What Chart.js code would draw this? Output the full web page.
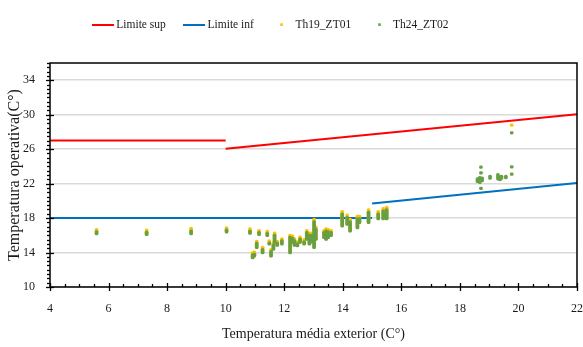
<!DOCTYPE html>
<html><head><meta charset="utf-8">
<script src="https://cdn.jsdelivr.net/npm/chart.js@4/dist/chart.umd.min.js"></script>
<style>html,body{margin:0;padding:0;background:#fff;}</style>
</head><body>
<canvas id="c" width="583" height="347"></canvas>
<script>
// ---- data ----
const xTicks = [4, 6, 8, 10, 12, 14, 16, 18, 20, 22];
const yTicks = [10, 14, 18, 22, 26, 30, 34];

const supFlatX = [4, 10],  supFlatY = [27, 27];
const supSlopeX = [10, 22], supSlopeY = [26.05, 30.05];
const infFlatX = [4, 15],  infFlatY = [18, 18];
const infSlopeX = [15, 22], infSlopeY = [19.7, 22.07];

const th19X    = [5.59, 7.30, 8.82, 10.03, 10.83, 10.92, 10.98, 11.06, 11.14, 11.26, 11.42, 11.49, 11.55, 11.63, 11.67, 11.76, 11.92, 12.20, 12.28, 12.35, 12.45, 12.54, 12.68, 12.77, 12.86, 12.94, 13.02, 13.08, 13.36, 13.43, 13.50, 13.60, 13.98, 14.15, 14.25, 14.50, 14.57, 14.88, 15.21, 15.38, 15.50, 19.77];
const th19Low  = [16.1, 16.0, 16.1, 16.3, 16.15, 13.3, 13.5, 14.5, 16.0, 13.9, 15.9, 14.9, 13.5, 14.3, 15.1, 14.75, 14.9, 13.9, 15.1, 14.75, 14.7, 15.1, 14.9, 15.45, 14.9, 15.15, 14.5, 15.45, 15.65, 15.45, 15.65, 15.9, 17.0, 17.2, 16.4, 16.8, 17.4, 17.4, 17.85, 17.85, 17.85, 28.65];
const th19High = [16.8, 16.75, 16.95, 17.0, 16.9, 14.1, 14.2, 15.45, 16.7, 14.75, 16.6, 15.5, 14.5, 15.25, 16.4, 15.45, 15.75, 16.15, 16.05, 15.75, 15.4, 15.95, 15.65, 16.7, 16.4, 16.4, 18.0, 17.1, 16.7, 16.9, 16.8, 16.7, 18.9, 18.5, 18.0, 18.35, 18.35, 19.1, 18.9, 19.25, 19.4, 28.95];

const th24X    = [5.59, 7.30, 8.82, 10.03, 10.83, 10.92, 10.98, 11.06, 11.14, 11.26, 11.42, 11.49, 11.55, 11.63, 11.67, 11.76, 11.92, 12.20, 12.28, 12.35, 12.45, 12.54, 12.68, 12.77, 12.86, 12.94, 13.02, 13.08, 13.36, 13.43, 13.50, 13.60, 13.98, 14.15, 14.25, 14.50, 14.57, 14.88, 15.21, 15.38, 15.50, 18.60, 18.68, 18.72, 18.72, 18.72, 18.76, 19.03, 19.30, 19.37, 19.42, 19.57, 19.77, 19.77, 19.77];
const th24Low  = [16.05, 15.95, 16.05, 16.25, 16.1, 13.25, 13.45, 14.45, 15.95, 13.85, 15.85, 14.85, 13.45, 14.25, 15.05, 14.7, 14.85, 13.85, 15.05, 14.7, 14.65, 15.05, 14.85, 15.4, 14.85, 15.1, 14.45, 15.4, 15.6, 15.4, 15.6, 15.85, 16.95, 17.15, 16.35, 16.75, 17.35, 17.35, 17.8, 17.8, 17.8, 22.1, 22.0, 23.75, 23.1, 21.3, 22.2, 22.5, 22.4, 22.3, 22.5, 22.55, 23.8, 22.95, 27.75];
const th24High = [16.55, 16.5, 16.65, 16.75, 16.6, 13.85, 13.95, 15.2, 16.45, 14.5, 16.35, 15.25, 14.25, 15.0, 16.15, 15.2, 15.5, 15.9, 15.8, 15.5, 15.15, 15.7, 15.4, 16.45, 16.15, 16.15, 17.7, 16.85, 16.45, 16.65, 16.55, 16.45, 18.6, 18.2, 17.7, 18.05, 18.05, 18.8, 18.6, 18.95, 19.1, 22.7, 22.85, 24.05, 23.4, 21.6, 22.8, 23.0, 23.2, 22.9, 23.0, 23.0, 24.1, 23.25, 28.05];

// ---- styling ----
const SERIF = "'Liberation Serif', 'Times New Roman', serif";
const RED = '#FF0000', BLUE = '#0070C0', YEL = '#FFC000', GRN = '#67A044';
const TXT = '#1a1a1a';

function lineImg(color) {
  const c = document.createElement('canvas'); c.width = 22; c.height = 2;
  const g = c.getContext('2d'); g.fillStyle = color; g.fillRect(0, 0, 22, 2); return c;
}
function dotImg(color) {
  const c = document.createElement('canvas'); c.width = 3; c.height = 3;
  const g = c.getContext('2d'); g.fillStyle = color; g.beginPath(); g.arc(1.5, 1.5, 1.5, 0, Math.PI * 2); g.fill(); return c;
}
const legendImgs = [lineImg(RED), lineImg(BLUE), dotImg(YEL), dotImg(GRN)];

const pts = (xs, ys) => xs.map((x, i) => ({x, y: ys[i]}));
const bars = (xs, lo, hi) => xs.map((x, i) => ({x, y: [lo[i], hi[i]]}));

const lineDs = (label, xs, ys, color) => ({
  type: 'line', label, data: pts(xs, ys), borderColor: color, backgroundColor: color,
  borderWidth: 2, pointRadius: 0, fill: false, order: 3
});

const frameTicks = {
  id: 'frameTicks',
  afterDraw(chart) {
    const {ctx, chartArea: {left, right, top, bottom}, scales: {x, y}} = chart;
    ctx.save();
    ctx.strokeStyle = '#000';
    ctx.lineWidth = 1.3;
    for (let v = y.min; v <= y.max + 1e-9; v += 0.5) {
      const py = Math.round(y.getPixelForValue(v)) + 0.5;
      const major = yTicks.includes(v);
      ctx.beginPath(); ctx.moveTo(left - (major ? 4 : 3), py); ctx.lineTo(left + (major ? 4 : 0), py); ctx.stroke();
    }
    for (let v = x.min; v <= x.max + 1e-9; v += 0.5) {
      const px = Math.round(x.getPixelForValue(v)) + 0.5;
      const major = xTicks.includes(v);
      ctx.beginPath(); ctx.moveTo(px, bottom - (major ? 4 : 3)); ctx.lineTo(px, bottom + (major ? 4 : 0)); ctx.stroke();
    }
    ctx.lineWidth = 1.5;
    ctx.strokeRect(left, top, right - left, bottom - top);
    ctx.restore();
  }
};

const legendFix = {
  id: 'legendFix',
  beforeLayout(chart) {
    const lg = chart.legend;
    if (lg && !lg._fixed) {
      const f = lg.fit;
      lg.fit = function () { f.call(this); this.height = 63; };
      lg._fixed = true;
    }
  },
  afterLayout(chart) {
    const lg = chart.legend;
    if (lg) { lg.left -= 17; lg.right -= 17; lg.top -= 1; lg.bottom -= 1; }
  }
};

new Chart(document.getElementById('c'), {
  type: 'bar',
  data: {
    datasets: [
      lineDs('Limite sup', supFlatX, supFlatY, RED),
      lineDs('Limite sup', supSlopeX, supSlopeY, RED),
      lineDs('Limite inf', infFlatX, infFlatY, BLUE),
      lineDs('Limite inf', infSlopeX, infSlopeY, BLUE),
      { type: 'bar', label: 'Th19_ZT01', data: bars(th19X, th19Low, th19High), backgroundColor: YEL,
        barThickness: 3, borderRadius: 1.5, borderSkipped: false, grouped: false, order: 1 },
      { type: 'bar', label: 'Th24_ZT02', data: bars(th24X, th24Low, th24High), backgroundColor: GRN,
        barThickness: 3, borderRadius: 1.5, borderSkipped: false, grouped: false, order: 0 }
    ]
  },
  options: {
    responsive: false,
    animation: false,
    events: [],
    layout: { padding: { left: 0, right: 6, top: 0, bottom: 0 } },
    plugins: {
      tooltip: { enabled: false },
      legend: {
        display: true,
        position: 'top',
        labels: {
          usePointStyle: true,
          pointStyleWidth: 16,
          padding: 20,
          color: TXT,
          font: { family: SERIF, size: 11.5 },
          generateLabels: () => ['Limite sup', 'Limite inf', 'Th19_ZT01', 'Th24_ZT02'].map((t, i) => ({
            text: t, pointStyle: legendImgs[i], fillStyle: 'rgba(0,0,0,0)', strokeStyle: 'rgba(0,0,0,0)',
            lineWidth: 0, hidden: false, fontColor: TXT, datasetIndex: [0, 2, 4, 5][i]
          }))
        }
      }
    },
    scales: {
      x: {
        type: 'linear', min: 4, max: 22, offset: false,
        afterBuildTicks: s => { s.ticks = xTicks.map(v => ({value: v})); },
        afterFit: s => { s.height = 60; s.paddingRight = 6; s.paddingLeft = 0; },
        grid: { display: false, drawTicks: false, offset: false },
        border: { display: false },
        ticks: { color: TXT, padding: 15, maxRotation: 0, font: { family: SERIF, size: 12 } },
        title: { display: true, text: 'Temperatura média exterior (C°)', color: TXT,
                 font: { family: SERIF, size: 14 }, padding: { top: 0, bottom: 4 } }
      },
      y: {
        type: 'linear', min: 10, max: 36,
        afterBuildTicks: s => { s.ticks = yTicks.map(v => ({value: v})); },
        afterFit: s => { s.width = 50; },
        grid: { color: '#D9D9D9', lineWidth: 1.5, drawTicks: false },
        border: { display: false },
        ticks: { color: TXT, padding: 15, font: { family: SERIF, size: 12 } },
        title: { display: true, text: 'Temperatura operativa(C°)', color: TXT,
                 font: { family: SERIF, size: 16 }, padding: { top: 5, bottom: 0 } }
      }
    }
  },
  plugins: [legendFix, frameTicks]
});
</script>
</body></html>
